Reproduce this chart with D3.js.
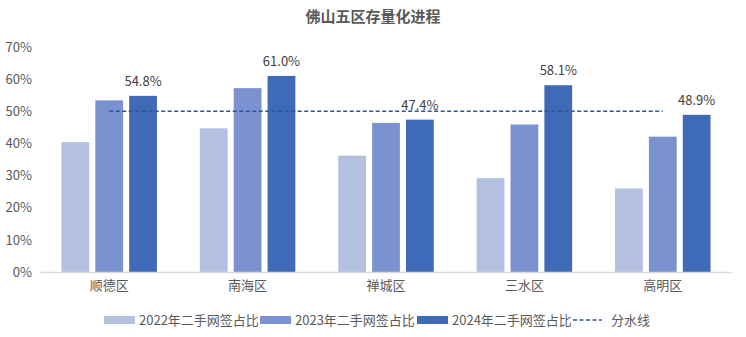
<!DOCTYPE html>
<html><head><meta charset="utf-8">
<script src="https://cdn.jsdelivr.net/npm/d3@7"></script>
<style>body{margin:0;background:#fff}svg{display:block}</style>
</head><body><svg id="c" width="746" height="337"></svg>
<script>
const categories = ["顺德区","南海区","禅城区","三水区","高明区"];
const seriesNames = ["2022年二手网签占比","2023年二手网签占比","2024年二手网签占比"];
const v2022 = [40.4, 44.7, 36.2, 29.2, 26.0];
const v2023 = [53.4, 57.2, 46.4, 45.9, 42.1];
const v2024 = [54.8, 61.0, 47.4, 58.1, 48.9];
const threshold = [50, 50, 50, 50, 50];
const thresholdName = "分水线";
const yTicks = [0,10,20,30,40,50,60,70];
const title = "佛山五区存量化进程";

const colors = ["#B4C0E0","#7A93D0","#3E6AB8"];
const font = "'Noto Sans CJK SC','Noto Sans',sans-serif";
const svg = d3.select("#c");
const W=746, H=337;
const m = {l:40, r:14, t:47, b:65};
const x0 = d3.scaleBand().domain(categories).range([m.l, W-m.r]).paddingInner(0).paddingOuter(0);
const x1 = d3.scaleBand().domain(seriesNames).range([x0.bandwidth()*0.155, x0.bandwidth()*0.845]).paddingInner(0.18).paddingOuter(0);
const y = d3.scaleLinear().domain([0,70]).range([H-m.b, m.t]);

svg.append("text").attr("x",W/2).attr("y",22).attr("text-anchor","middle")
  .attr("font-family",font).attr("font-size",15).attr("font-weight","bold").attr("fill","#595959").text(title);

// y axis labels
const yAxis = d3.axisLeft(y).tickValues(yTicks).tickFormat(d=>d+"%").tickSize(0).tickPadding(0);
const ga = svg.append("g").attr("transform",`translate(32,0)`).call(yAxis);
ga.select(".domain").remove();
ga.selectAll("text").attr("font-family",font).attr("font-size",13).attr("fill","#595959").attr("text-anchor","end").attr("x",0);

const series = [v2022,v2023,v2024];
series.forEach((vals,si)=>{
  svg.append("g").selectAll("rect").data(vals).join("rect")
    .attr("x",(d,i)=>x0(categories[i])+x1(seriesNames[si]))
    .attr("width",x1.bandwidth())
    .attr("y",d=>y(d)).attr("height",d=>y(0)-y(d))
    .attr("fill",colors[si]);
});

// x axis
const xAxis = d3.axisBottom(x0).tickSize(0).tickPadding(9);
const gx = svg.append("g").attr("transform",`translate(0,${y(0)})`).call(xAxis);
gx.select(".domain").attr("stroke","#D9D9D9").attr("stroke-width",1.5);
gx.selectAll("text").attr("font-family",font).attr("font-size",13).attr("fill","#595959");

// threshold line
const line = d3.line().x((d,i)=>x0(categories[i])+x0.bandwidth()/2).y(d=>y(d));
svg.append("path").datum(threshold).attr("d",line).attr("fill","none")
  .attr("stroke","#2F5597").attr("stroke-width",1.5).attr("stroke-dasharray","4,2.5");

// labels on 2024
svg.append("g").selectAll("text").data(v2024).join("text")
  .attr("x",(d,i)=>x0(categories[i])+x1(seriesNames[2])+x1.bandwidth()/2)
  .attr("y",d=>y(d)-10).attr("text-anchor","middle")
  .attr("font-family",font).attr("font-size",13).attr("fill","#404040")
  .text(d=>d.toFixed(1)+"%");

// legend
const leg = [
  {name:seriesNames[0], type:"rect", c:colors[0], x:104},
  {name:seriesNames[1], type:"rect", c:colors[1], x:260},
  {name:seriesNames[2], type:"rect", c:colors[2], x:417},
  {name:thresholdName, type:"line", c:"#2F5597", x:573}
];
const lg = svg.append("g");
leg.forEach(it=>{
  if(it.type==="rect"){
    lg.append("rect").attr("x",it.x).attr("y",316).attr("width",31).attr("height",8).attr("fill",it.c);
    lg.append("text").attr("x",it.x+35).attr("y",325).attr("font-family",font).attr("font-size",13).attr("fill","#595959").text(it.name);
  } else {
    lg.append("line").attr("x1",it.x).attr("x2",it.x+29).attr("y1",320).attr("y2",320).attr("stroke",it.c).attr("stroke-width",1.5).attr("stroke-dasharray","4,2.5");
    lg.append("text").attr("x",it.x+38).attr("y",325).attr("font-family",font).attr("font-size",13).attr("fill","#595959").text(it.name);
  }
});
</script></body></html>
